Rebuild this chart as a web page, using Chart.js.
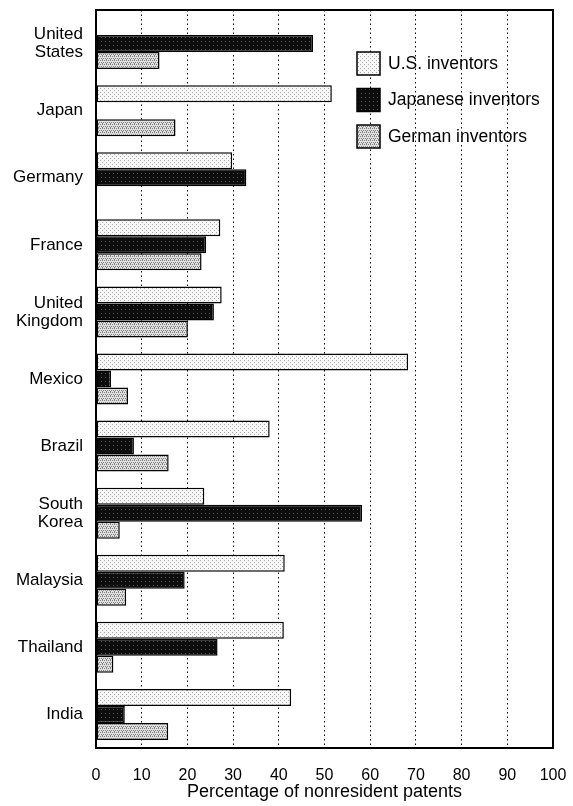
<!DOCTYPE html>
<html>
<head>
<meta charset="utf-8">
<script src="https://cdn.jsdelivr.net/npm/chart.js@4.4.0/dist/chart.umd.min.js"></script>
<style>
  html, body { margin: 0; padding: 0; background: #fff; }
</style>
</head>
<body>
<canvas id="chart" width="573" height="806"></canvas>
<script>
// data
const countries = [['United', 'States'], 'Japan', 'Germany', 'France', ['United', 'Kingdom'],
  'Mexico', 'Brazil', ['South', 'Korea'], 'Malaysia', 'Thailand', 'India'];
const usInventors       = [null, 51.6, 29.8, 27.2, 27.5, 68.3, 38.0, 23.7, 41.3, 41.1, 42.7];
const japaneseInventors = [47.5, null, 32.9, 24.1, 25.8, 3.3, 8.3, 58.2, 19.4, 26.6, 6.3];
const germanInventors   = [13.9, 17.4, null, 23.1, 20.1, 7.0, 15.9, 5.2, 6.6, 3.8, 15.8];
const seriesNames = ['U.S. inventors', 'Japanese inventors', 'German inventors'];
const xTicks = [0, 10, 20, 30, 40, 50, 60, 70, 80, 90, 100];

const FONT = "'Liberation Sans', Arial, sans-serif";

// small stipple tiles to mimic the printed screens
function stipple(bg, dot, cells) {
  const c = document.createElement('canvas');
  c.width = 4; c.height = 4;
  const g = c.getContext('2d');
  g.fillStyle = bg;
  g.fillRect(0, 0, 4, 4);
  g.fillStyle = dot;
  cells.forEach(([x, y]) => g.fillRect(x, y, 1, 1));
  return g.createPattern(c, 'repeat');
}
const usFill = stipple('#f7f7f7', '#a8a8a8', [[0, 0], [2, 2]]);
const jpFill = stipple('#0d0d0d', '#555555', [[1, 1]]);
const deFill = stipple('#e0e0e0', '#808080', [[0, 0], [2, 0], [1, 2], [3, 2], [2, 3]]);

// legend sits inside the plot, top right
const insideLegend = {
  id: 'insideLegend',
  afterDraw(chart) {
    const ctx = chart.ctx;
    ctx.save();
    ctx.font = '17.5px ' + FONT;
    ctx.textBaseline = 'middle';
    chart.data.datasets.forEach((ds, i) => {
      const y = 52 + i * 36.5;
      ctx.fillStyle = '#fff';
      ctx.fillRect(357, y, 23, 23);
      ctx.fillStyle = ds.backgroundColor;
      ctx.fillRect(357, y, 23, 23);
      ctx.lineWidth = 1.5;
      ctx.strokeStyle = '#000';
      ctx.strokeRect(357, y, 23, 23);
      ctx.fillStyle = '#000';
      ctx.fillText(ds.label, 388, y + 12);
    });
    ctx.restore();
  }
};

// solid frame round the plot area
const frame = {
  id: 'frame',
  afterDatasetsDraw(chart) {
    const { left, top, right, bottom } = chart.chartArea;
    const ctx = chart.ctx;
    ctx.save();
    ctx.lineWidth = 2;
    ctx.strokeStyle = '#000';
    ctx.strokeRect(left, top, right - left, bottom - top);
    ctx.restore();
  }
};

const barStyle = { borderColor: '#000', borderWidth: 1.5, borderSkipped: false };

new Chart(document.getElementById('chart'), {
  type: 'bar',
  data: {
    labels: countries,
    datasets: [
      { label: seriesNames[0], data: usInventors, backgroundColor: usFill, ...barStyle },
      { label: seriesNames[1], data: japaneseInventors, backgroundColor: jpFill, ...barStyle },
      { label: seriesNames[2], data: germanInventors, backgroundColor: deFill, ...barStyle }
    ]
  },
  options: {
    indexAxis: 'y',
    responsive: false,
    animation: false,
    devicePixelRatio: 1,
    layout: { padding: { top: 10, right: 20, left: 0, bottom: 0 } },
    datasets: { bar: { barPercentage: 1, categoryPercentage: 0.76 } },
    plugins: { legend: { display: false }, tooltip: { enabled: false } },
    scales: {
      x: {
        min: 0,
        max: 100,
        afterBuildTicks: scale => { scale.ticks = xTicks.map(v => ({ value: v })); },
        afterFit: scale => {
          scale.height = 58;
          scale.paddingLeft = 0;
          scale.paddingRight = 0;
        },
        grid: {
          drawTicks: false,
          lineWidth: 1,
          color: c => (c.tick && (c.tick.value === 0 || c.tick.value === 100)) ? 'rgba(0,0,0,0)' : '#000'
        },
        border: { display: false, dash: [1.5, 3] },
        ticks: { color: '#000', padding: 18, font: { family: FONT, size: 16 } },
        title: {
          display: true,
          text: 'Percentage of nonresident patents',
          color: '#000',
          padding: { top: 0, bottom: 3 },
          font: { family: FONT, size: 18 }
        }
      },
      y: {
        afterFit: scale => {
          scale.width = 96;
          scale.paddingTop = 0;
          scale.paddingBottom = 0;
        },
        grid: { display: false, drawTicks: false },
        border: { display: false },
        ticks: { color: '#000', padding: 13, font: { family: FONT, size: 17, lineHeight: 1.05 } }
      }
    }
  },
  plugins: [frame, insideLegend]
});
</script>
</body>
</html>
